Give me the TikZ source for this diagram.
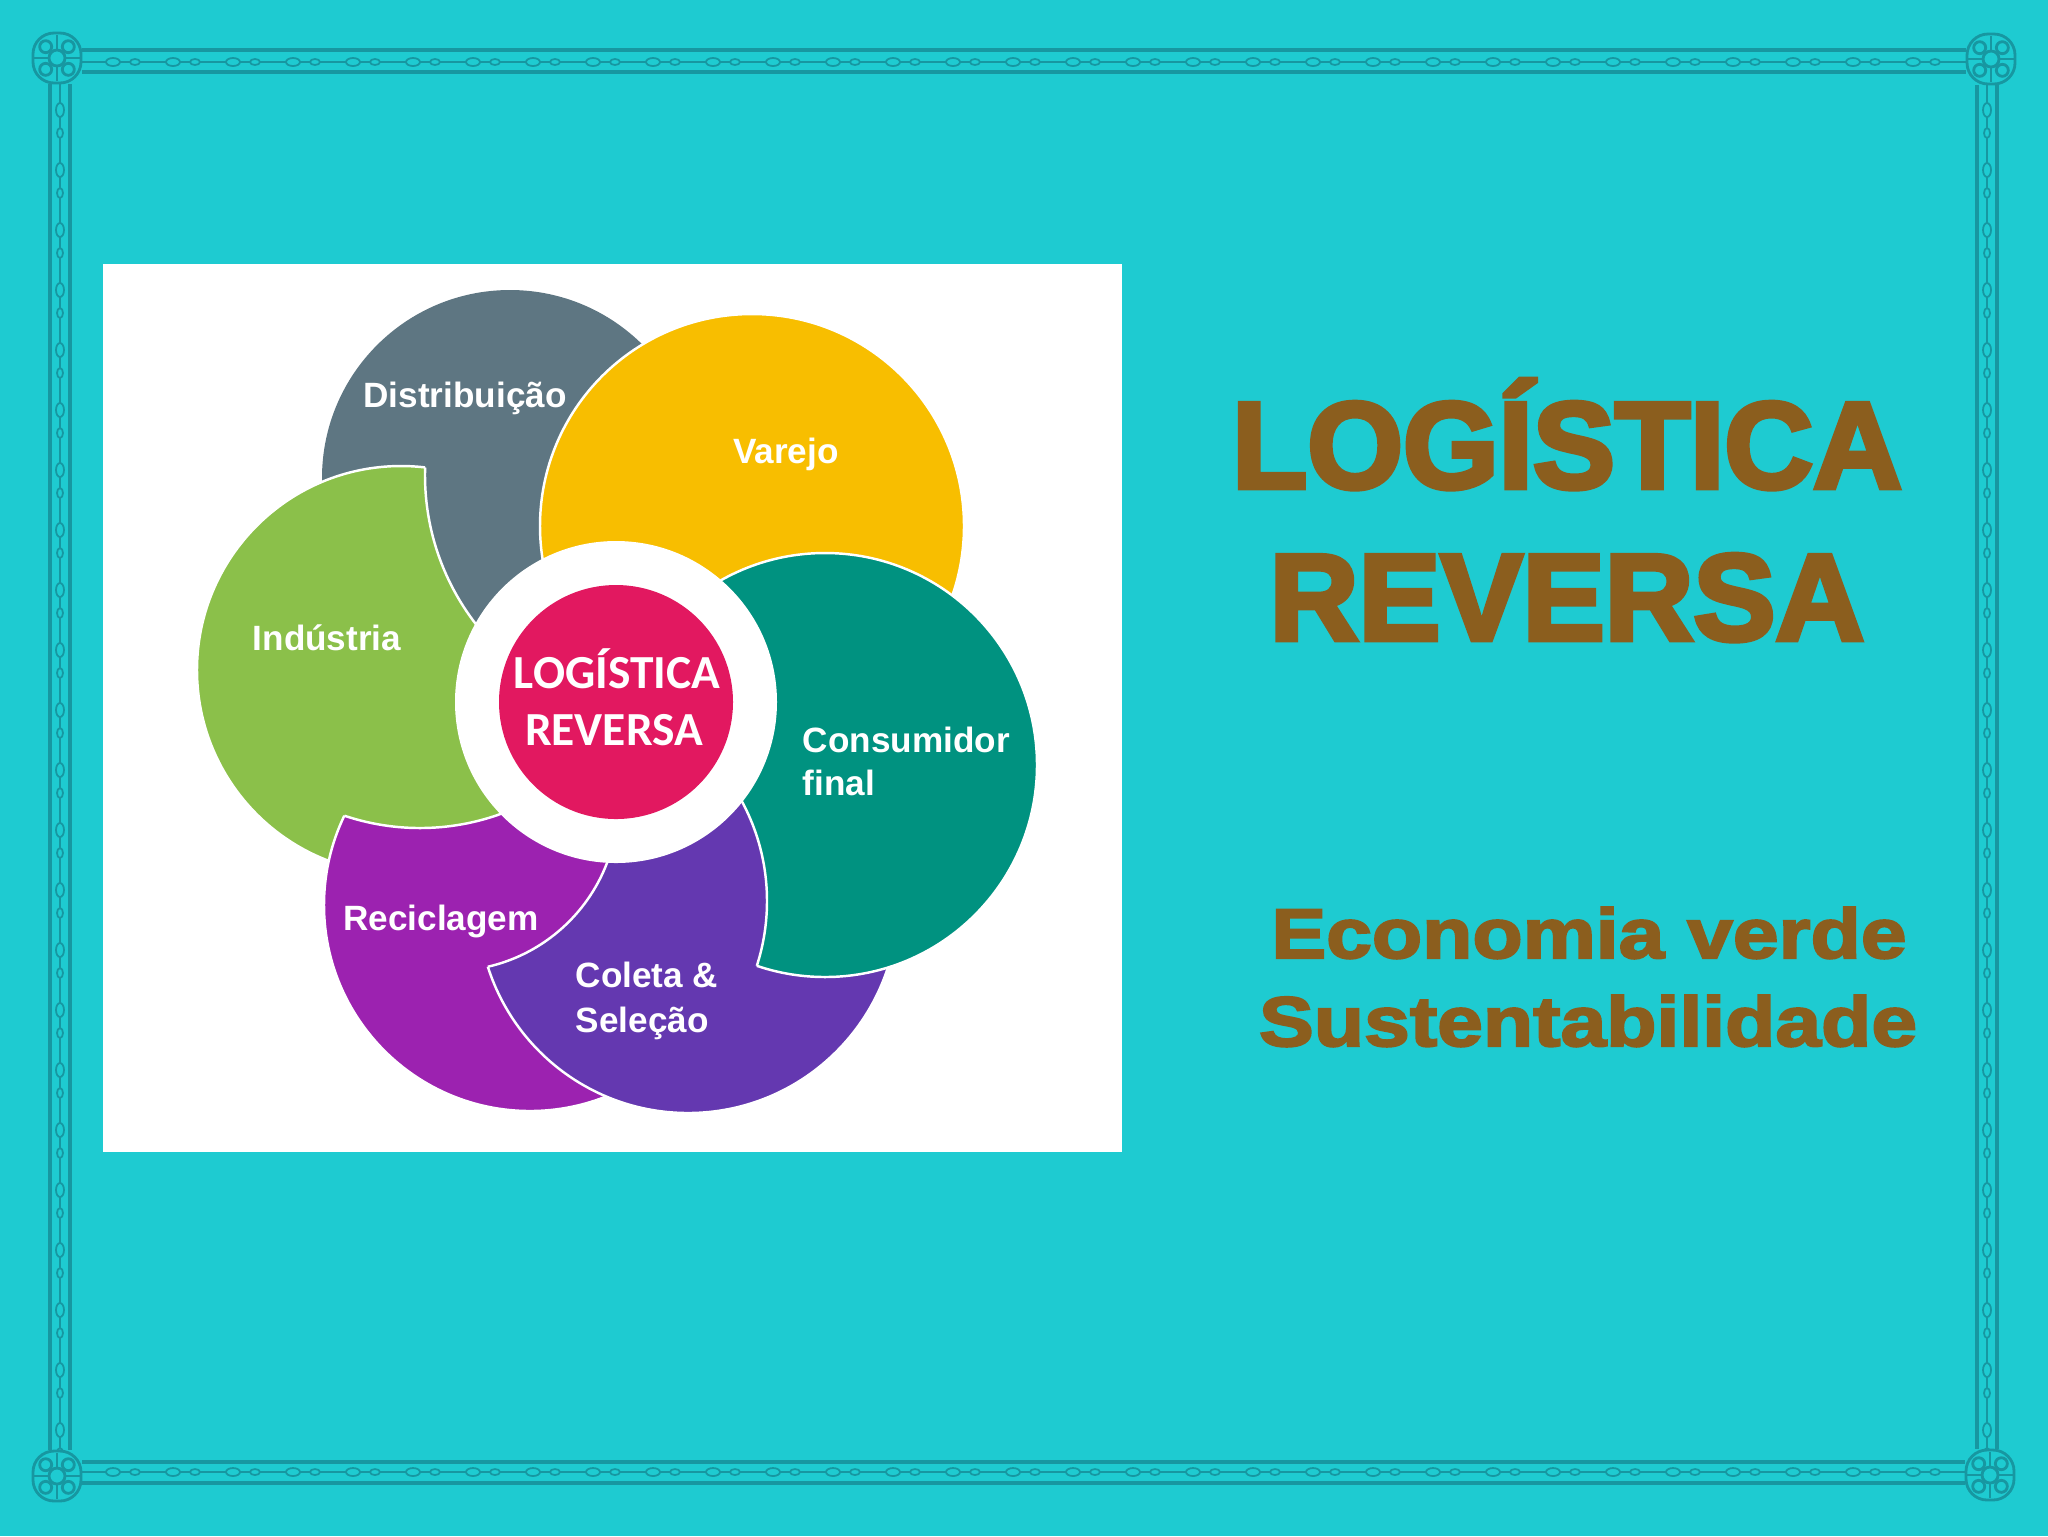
\documentclass[tikz,border=0pt]{standalone}
\usepackage{fontspec}
\setmainfont{Liberation Sans}
\newfontfamily\titlefont{Liberation Sans}[BoldFeatures={FakeBold=4}]
\newfontfamily\subfont{Liberation Sans}[BoldFeatures={FakeBold=3,FakeStretch=1.17}]
\newfontfamily\hubfont{Carlito}

\definecolor{sea}{HTML}{1ECBD1}
\definecolor{framedark}{HTML}{1797A1}
\definecolor{titlebrown}{HTML}{8B5E1E}
\definecolor{petalgray}{HTML}{5E7682}
\definecolor{petalyellow}{HTML}{F8BE00}
\definecolor{petalteal}{HTML}{009280}
\definecolor{petalgreen}{HTML}{8BC04A}
\definecolor{petalpurple}{HTML}{9C22B0}
\definecolor{petalviolet}{HTML}{6438B0}
\definecolor{hubpink}{HTML}{E21860}

\tikzset{
  frameline/.style={draw=framedark, line width=1.1pt},
  chainline/.style={draw=framedark, line width=0.6pt},
  bead/.style={draw=framedark, fill=sea, line width=0.5pt},
  orn/.style={draw=framedark, line width=0.8pt},
  petaledge/.style={draw=white, line width=0.7pt},
  petallabel/.style={text=white, font=\bfseries\fontsize{10}{12}\selectfont, inner sep=0pt},
  hublabel/.style={text=white, font=\hubfont\bfseries\fontsize{13.5}{16}\selectfont, inner sep=0pt},
  titlelabel/.style={text=titlebrown, font=\titlefont\bfseries\fontsize{35}{40}\selectfont, inner sep=0pt},
  sublabel/.style={text=titlebrown, font=\subfont\bfseries\fontsize{20}{24}\selectfont, inner sep=0pt},
}

% petal = circle #2 radius #3 with the disk #4 radius #5 cut away
\newcommand{\bitepetal}[5]{
  \begin{scope}
    \clip (0,0) -- (2048,0) -- (2048,1536) -- (0,1536) -- cycle
      (#4) ++(#5,0) arc[start angle=0, delta angle=-360, radius=#5];
    \fill[#1] (#2) circle (#3);
    \draw[petaledge] (#2) circle (#3);
  \end{scope}
  \begin{scope}
    \clip (#2) circle (#3);
    \draw[petaledge] (#4) circle (#5);
  \end{scope}
}

\begin{document}
\begin{tikzpicture}[x=0.1mm,y=-0.1mm]
\useasboundingbox (0,0) rectangle (2048,1536);
\fill[sea] (0,0) rectangle (2048,1536);

% frame
\draw[frameline] (50,50) rectangle (1997,1483);
\draw[frameline] (70,72) rectangle (1977,1462);
\draw[chainline] (60,62) rectangle (1987,1472);
\foreach \k in {0,...,30} {
  \draw[bead] (113+60*\k,62) ellipse (7 and 4);
  \draw[bead] (135+60*\k,62) ellipse (5 and 3);
  \draw[bead] (113+60*\k,1472) ellipse (7 and 4);
  \draw[bead] (135+60*\k,1472) ellipse (5 and 3);
}
\foreach \k in {0,...,22} {
  \draw[bead] (60,110+60*\k) ellipse (4 and 7);
  \draw[bead] (60,133+60*\k) ellipse (3 and 5);
  \draw[bead] (1987,110+60*\k) ellipse (4 and 7);
  \draw[bead] (1987,133+60*\k) ellipse (3 and 5);
}
\foreach \cx/\cy in {57/58,1991/59,57/1476,1990/1475} {
  \fill[sea] (\cx-25,\cy-26) rectangle (\cx+25,\cy+26);
  \draw[orn, rounded corners=6] (\cx-24,\cy-25) rectangle (\cx+24,\cy+25);
  \draw[orn] (\cx,\cy) circle (8);
  \foreach \a in {0,90,180,270} {
    \draw[orn] (\cx,\cy) ++(\a+45:16) circle (6);
    \draw[orn] (\cx,\cy) ++(\a:9) -- ++(\a:14);
  }
}

\fill[white] (103,264) rectangle (1122,1152);

% petals
\fill[petalgray] (510,478) circle (188);
\bitepetal{petalgreen}{401,670}{204}{669,475}{244}
\bitepetal{petalpurple}{530,905}{206}{420,591}{237}
\bitepetal{petalviolet}{688,903}{210}{450,803}{168}
\fill[petalyellow] (752,526) circle (212);
\draw[petaledge] (752,526) circle (212);
\bitepetal{petalteal}{825,765}{212}{557,901}{210}
\fill[white] (616,702) circle (161);
\fill[hubpink] (616,702) circle (117);

\node[petallabel, anchor=base] (distribuicao) at (465,407) {Distribuição};
\node[petallabel, anchor=base] (varejo) at (786,463) {Varejo};
\node[petallabel, anchor=base] (industria) at (327,650) {Indústria};
\node[petallabel, anchor=base] (reciclagem) at (441,930) {Reciclagem};
\node[petallabel, anchor=base west] (coleta) at (575,987) {Coleta \&};
\node[petallabel, anchor=base west] (selecao) at (575,1032) {Seleção};
\node[petallabel, anchor=base west] (consumidor) at (802,752) {Consumidor};
\node[petallabel, anchor=base west] (final) at (802,795) {final};
\node[hublabel, anchor=base] (hubtop) at (617,688) {LOGÍSTICA};
\node[hublabel, anchor=base] (hubbottom) at (614,745) {REVERSA};

\node[titlelabel, anchor=base] (titletop) at (1567,488) {LOGÍSTICA};
\node[titlelabel, anchor=base] (titlebottom) at (1567,640) {REVERSA};
\node[sublabel, anchor=base] (economia) at (1589,958) {Economia verde};
\node[sublabel, anchor=base] (sustenta) at (1588,1046) {Sustentabilidade};
\end{tikzpicture}
\end{document}
